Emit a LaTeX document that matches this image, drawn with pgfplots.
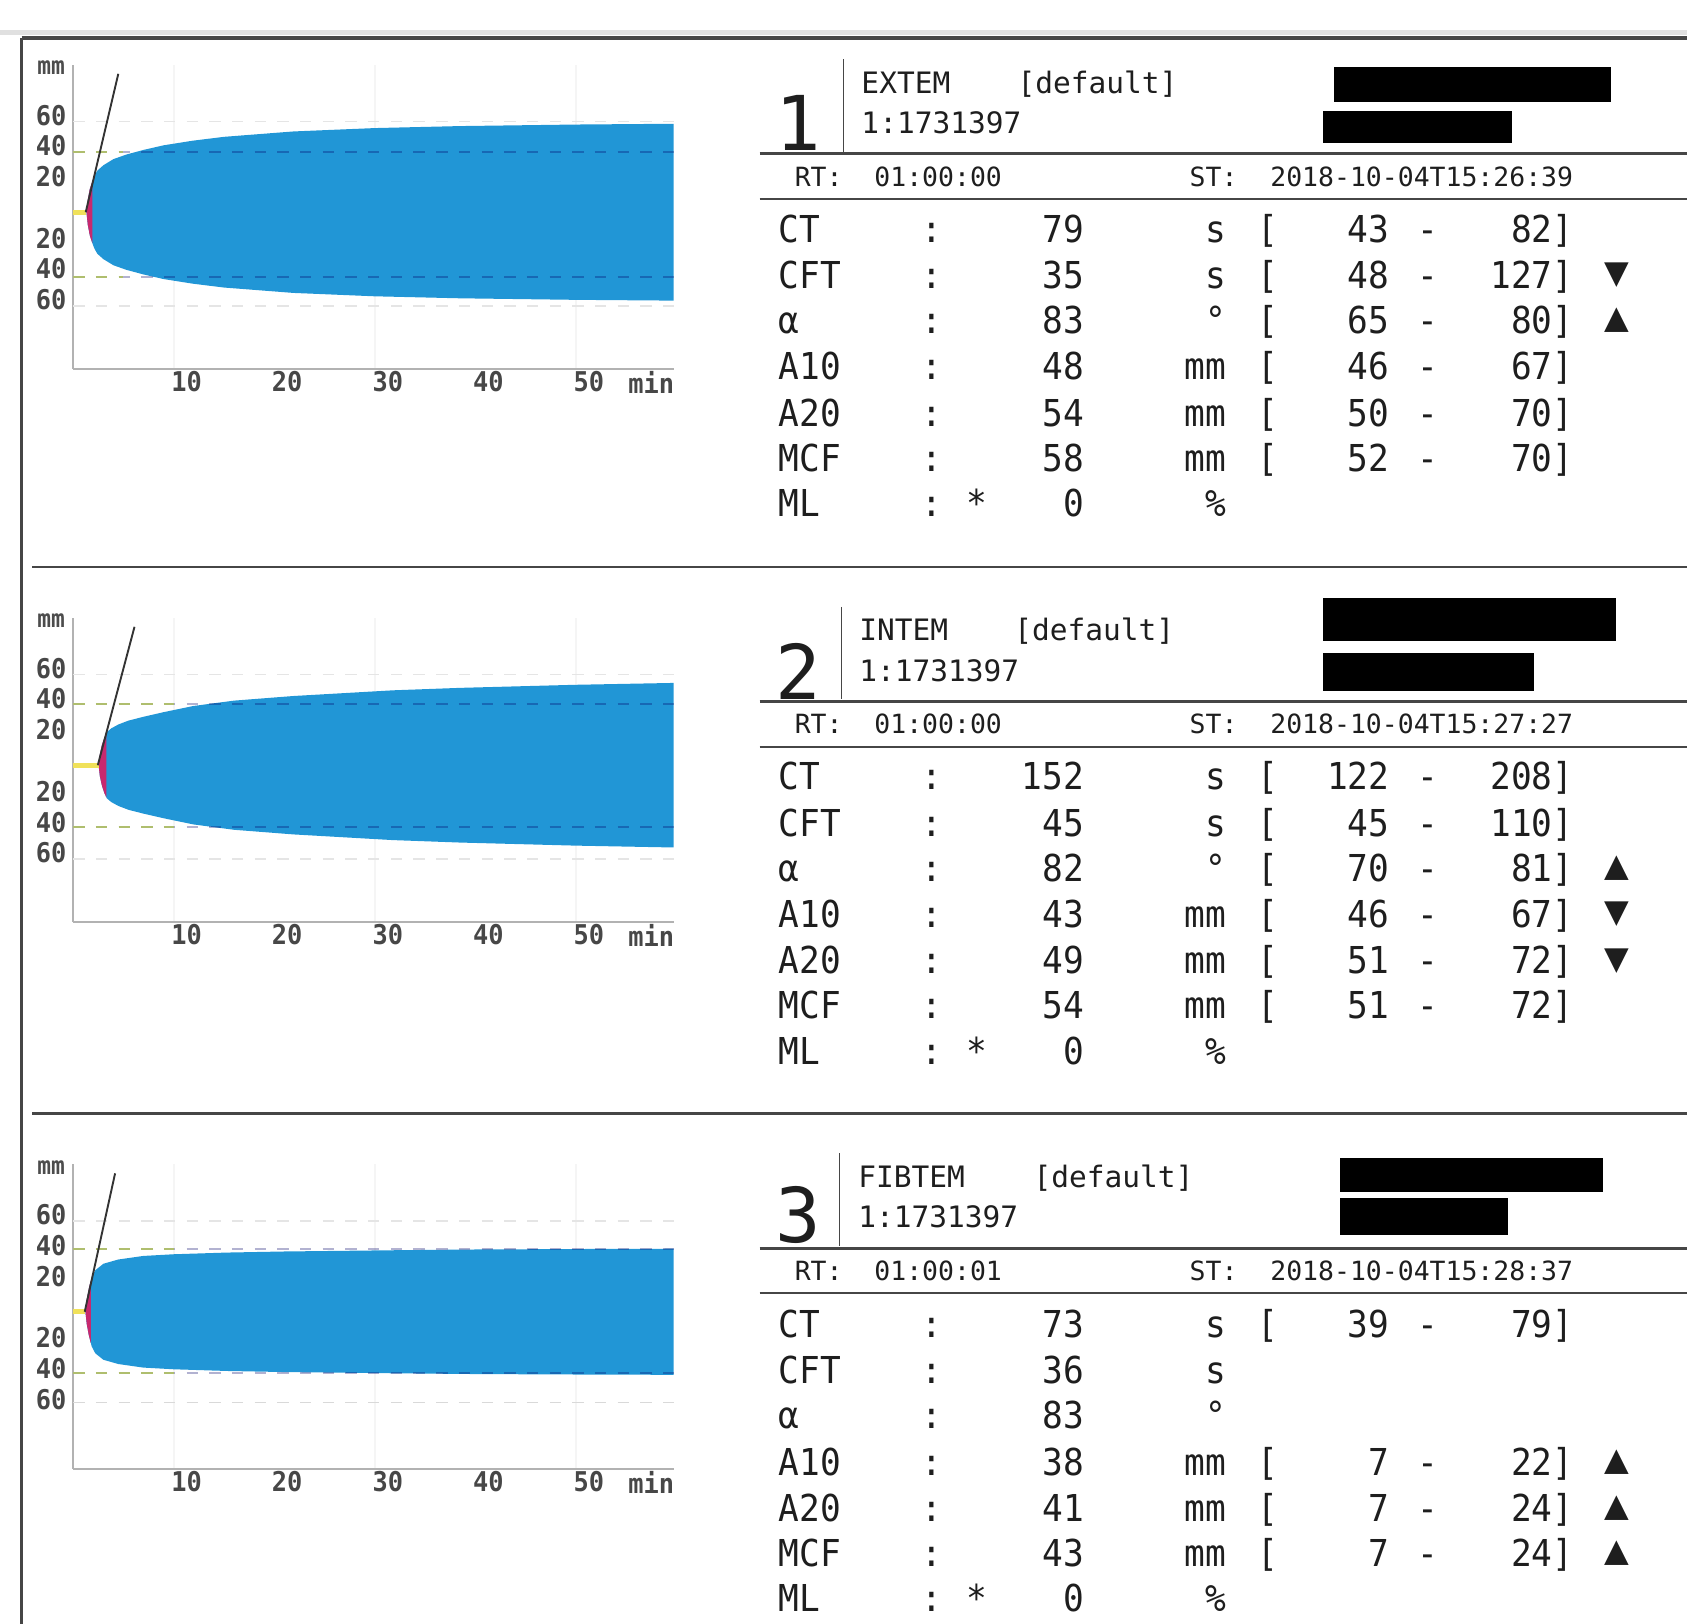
\documentclass[border=0pt]{standalone}
\usepackage{pgfplots}
\pgfplotsset{compat=1.18}
\usepackage{pgfplotstable}
\usepgfplotslibrary{fillbetween}
\usepackage{fontspec}
\setmainfont{DejaVu Sans}
\newfontfamily\monof{DejaVu Sans Mono}
\newfontfamily\rowf[FakeStretch=0.93]{DejaVu Sans Mono}
\newfontfamily\symf{DejaVu Sans}

\definecolor{rotblue}{RGB}{33,150,214}
\definecolor{txt}{RGB}{30,30,30}
\definecolor{frm}{RGB}{70,70,70}
\definecolor{refg}{RGB}{175,190,110}
\definecolor{ylw}{RGB}{240,225,90}
\definecolor{rd}{RGB}{200,40,110}

% EXTEM trace: time (min), half amplitude
\pgfplotstableread{
t A
1.32 0
1.45 8
1.65 15
1.9 20
2.1 23.5
2.4 27
3.0 30.5
4.0 34.5
5.3 37.5
7 40.5
9 43.5
11.9 46.5
15 49
21.9 52.5
30 54.7
38.5 56
50 57
59.7 57.5
}\traceA
% INTEM trace
\pgfplotstableread{
t A
2.53 0
2.65 7
2.85 13
3.1 18
3.34 21.5
3.8 24
4.5 26.5
5.5 29
7 31.5
9 34.5
11.95 38.5
16 42
21.9 45
31.8 48.7
38.5 50.3
50 52.3
59.7 53.5
}\traceB
% FIBTEM trace
\pgfplotstableread{
t A
1.22 0
1.35 8
1.55 15
1.84 22.5
2.2 27
3.0 31.2
4.5 34
6.97 36.3
10 37.4
15.3 38.5
21 39.2
31.8 40
40 40.5
50 40.8
59.7 41
}\traceC

\pgfplotsset{rotem/.style={
  scale only axis, width=55.8mm, height=28.3mm,
  xmin=0, xmax=59.7, ymin=-105, ymax=93,
  axis x line=bottom, axis y line=left,
  axis line style={draw=black!30, line width=0.5pt, -},
  xtick={10,20,30,40,50,56.2}, xticklabels={10,20,30,40,50,min},
  ytick={-60,-40,-20,20,40,60}, yticklabels={60,40,20,20,40,60},
  major tick length=0pt,
  ticklabel style={font=\rowf\bfseries\fontsize{7.2}{7.2}\selectfont, text=black!72},
  xticklabel style={xshift=1.2mm, yshift=1.0mm},
  yticklabel style={xshift=0.6mm},
  extra x ticks={10,30,50}, extra x tick labels={},
  extra x tick style={grid=major, major grid style={black!4, line width=0.6pt}},
  clip=false, anchor=south west,
}}

\newcommand\rfont{\rowf\fontsize{9.8}{9.8}\selectfont}
% #1 baseline, #2 label, #3 star, #4 value, #5 unit, #6 "[" or empty, #7 lo, #8 hi], #9 arrow
\newcommand\prow[9]{%
  \node[anchor=base west] at (723,-#1) {#2};
  \node[anchor=base] at (866,-#1) {:};
  \node[anchor=base] at (908,-#1) {#3};
  \node[anchor=base east] at (1008,-#1) {#4};
  \node[anchor=base east] at (1140,-#1) {#5};
  \if\relax\detokenize{#6}\relax\else
    \node[anchor=base west] at (1168,-#1) {#6};
    \node[anchor=base east] at (1292,-#1) {#7};
    \node[anchor=base] at (1327,-#1) {-};
    \node[anchor=base east] at (1463,-#1) {#8};
  \fi
  \node[anchor=center, font=\symf\fontsize{8.5}{8.5}\selectfont] at (1503,{-#1+12}) {#9};
}
\newcommand\phead[9]{% #1 dy, #2 digit, #3 name, #4 default x, #5 RT, #6 ST, #7 digit baseline, #8 vline x, #9 name x
  \node[anchor=base, font=\monof\fontsize{20}{20}\selectfont] at (742,{-#7}) {#2};
  \node[anchor=base west, font=\monof\fontsize{7.8}{7.8}\selectfont] at (#9,{-86.5-#1}) {#3};
  \node[anchor=base west, font=\monof\fontsize{7.8}{7.8}\selectfont] at (#4,{-86.5-#1}) {[default]};
  \node[anchor=base west, font=\monof\fontsize{7.8}{7.8}\selectfont] at (#9,{-124-#1}) {1:1731397};
  \node[anchor=base west, font=\monof\fontsize{7}{7}\selectfont] at (738,{-173-#1}) {RT:};
  \node[anchor=base west, font=\monof\fontsize{7}{7}\selectfont] at (812,{-173-#1}) {#5};
  \node[anchor=base west, font=\monof\fontsize{7}{7}\selectfont] at (1105,{-173-#1}) {ST:};
  \node[anchor=base west, font=\monof\fontsize{7}{7}\selectfont] at (1180,{-173-#1}) {#6};
  \draw[frm, line width=0.12mm] (#8,{-55-#1}) -- (#8,{-141-#1});
  \draw[frm, line width=0.28mm] (706,{-143-#1}) -- (1568,{-143-#1});
  \draw[frm, line width=0.22mm] (706,{-185-#1}) -- (1568,{-185-#1});
}

\begin{document}
\begin{tikzpicture}
\begin{scope}[x=0.1mm,y=0.1mm]
% frame
\draw[black!12, line width=0.5mm] (0,-30) -- (1568,-30);
\draw[frm, line width=0.35mm] (20,-35) -- (1568,-35);
\draw[frm, line width=0.35mm] (20,-35) -- (20,-1509);
\draw[frm, line width=0.25mm] (30,-527) -- (1568,-527);
\draw[frm, line width=0.25mm] (30,-1035) -- (1568,-1035);
\end{scope}

% ---------- chart 1 ----------
\begin{axis}[rotem, at={(6.8mm,-34.3mm)}]
\addplot[draw=black!10, dashed] coordinates {(0,56) (59.7,56)};
\addplot[draw=black!10, dashed] coordinates {(0,-64) (59.7,-64)};
\addplot[name path=ua, draw=none] table[x=t, y expr=\thisrow{A}-3] {\traceA};
\addplot[name path=la, draw=none] table[x=t, y expr=-\thisrow{A}-3] {\traceA};
\addplot[fill=rotblue, draw=none] fill between[of=ua and la];
\addplot[fill=rd, draw=none] fill between[of=ua and la, soft clip={domain=1.32:1.9}];
\addplot[draw=black!60!blue, opacity=0.3, dashed, line width=0.6pt] coordinates {(0,36) (59.7,36)};
\addplot[draw=black!60!blue, opacity=0.3, dashed, line width=0.6pt] coordinates {(0,-45) (59.7,-45)};
\addplot[draw=refg, dashed, line width=0.6pt] coordinates {(0,36) (5,36)};
\addplot[draw=refg, dashed, line width=0.6pt] coordinates {(0,-45) (5,-45)};
\addplot[draw=ylw, line width=1.4pt] coordinates {(0,-3) (1.32,-3)};
\addplot[draw=black!80, line width=0.5pt] coordinates {(1.25,-3) (4.49,87)};
\node[font=\rowf\bfseries\fontsize{6.5}{6.5}\selectfont, text=black!70] at (axis cs:-2.2,91) {mm};
\end{axis}

% ---------- chart 2 ----------
\begin{axis}[rotem, at={(6.8mm,-85.7mm)}]
\addplot[draw=black!10, dashed] coordinates {(0,56) (59.7,56)};
\addplot[draw=black!10, dashed] coordinates {(0,-64) (59.7,-64)};
\addplot[name path=ub, draw=none] table[x=t, y expr=\thisrow{A}-3] {\traceB};
\addplot[name path=lb, draw=none] table[x=t, y expr=-\thisrow{A}-3] {\traceB};
\addplot[fill=rotblue, draw=none] fill between[of=ub and lb];
\addplot[fill=rd, draw=none] fill between[of=ub and lb, soft clip={domain=2.53:3.3}];
\addplot[draw=black!60!blue, opacity=0.3, dashed, line width=0.6pt] coordinates {(0,37) (59.7,37)};
\addplot[draw=black!60!blue, opacity=0.3, dashed, line width=0.6pt] coordinates {(0,-43) (59.7,-43)};
\addplot[draw=refg, dashed, line width=0.6pt] coordinates {(0,37) (10,37)};
\addplot[draw=refg, dashed, line width=0.6pt] coordinates {(0,-43) (10,-43)};
\addplot[draw=ylw, line width=1.4pt] coordinates {(0,-3) (2.53,-3)};
\addplot[draw=black!80, line width=0.5pt] coordinates {(2.45,-3) (6.1,87)};
\node[font=\rowf\bfseries\fontsize{6.5}{6.5}\selectfont, text=black!70] at (axis cs:-2.2,91) {mm};
\end{axis}

% ---------- chart 3 ----------
\begin{axis}[rotem, at={(6.8mm,-136.5mm)}]
\addplot[draw=black!10, dashed] coordinates {(0,56) (59.7,56)};
\addplot[draw=black!15, dashed] coordinates {(0,-62) (59.7,-62)};
\addplot[name path=uc, draw=none] table[x=t, y expr=\thisrow{A}-3] {\traceC};
\addplot[name path=lc, draw=none] table[x=t, y expr=-\thisrow{A}-3] {\traceC};
\addplot[fill=rotblue, draw=none] fill between[of=uc and lc];
\addplot[fill=rd, draw=none] fill between[of=uc and lc, soft clip={domain=1.22:1.75}];
\addplot[draw=black!60!blue, opacity=0.3, dashed, line width=0.6pt] coordinates {(0,38) (59.7,38)};
\addplot[draw=black!60!blue, opacity=0.3, dashed, line width=0.6pt] coordinates {(0,-43) (59.7,-43)};
\addplot[draw=refg, dashed, line width=0.6pt] coordinates {(0,38) (10,38)};
\addplot[draw=refg, dashed, line width=0.6pt] coordinates {(0,-43) (10,-43)};
\addplot[draw=ylw, line width=1.4pt] coordinates {(0,-3) (1.22,-3)};
\addplot[draw=black!80, line width=0.5pt] coordinates {(1.15,-3) (4.17,87)};
\node[font=\rowf\bfseries\fontsize{6.5}{6.5}\selectfont, text=black!70] at (axis cs:-2.2,91) {mm};
\end{axis}

% ---------- text panels ----------
\begin{scope}[x=0.1mm,y=0.1mm,every node/.style={inner sep=0pt, text=txt, font=\rfont}]
\phead{0}{1}{EXTEM}{945}{01:00:00}{2018-10-04T15:26:39}{140}{784}{800}
\fill[black] (1240,-62) rectangle (1497,-95);
\fill[black] (1230,-103) rectangle (1405,-133);
\prow{225}{CT}{}{79}{s}{[}{43}{82]}{}
\prow{268}{CFT}{}{35}{s}{[}{48}{127]}{▼}
\prow{310}{α}{}{83}{°}{[}{65}{80]}{▲}
\prow{353}{A10}{}{48}{mm}{[}{46}{67]}{}
\prow{396}{A20}{}{54}{mm}{[}{50}{70]}{}
\prow{438}{MCF}{}{58}{mm}{[}{52}{70]}{}
\prow{480}{ML}{*}{0}{\%}{}{}{}{}

\phead{509}{2}{INTEM}{942}{01:00:00}{2018-10-04T15:27:27}{650}{782}{798}
\fill[black] (1230,-556) rectangle (1502,-596);
\fill[black] (1230,-607) rectangle (1426,-642);
\prow{734}{CT}{}{152}{s}{[}{122}{208]}{}
\prow{777}{CFT}{}{45}{s}{[}{45}{110]}{}
\prow{819}{α}{}{82}{°}{[}{70}{81]}{▲}
\prow{862}{A10}{}{43}{mm}{[}{46}{67]}{▼}
\prow{905}{A20}{}{49}{mm}{[}{51}{72]}{▼}
\prow{947}{MCF}{}{54}{mm}{[}{51}{72]}{}
\prow{989}{ML}{*}{0}{\%}{}{}{}{}

\phead{1017}{3}{FIBTEM}{960}{01:00:01}{2018-10-04T15:28:37}{1155}{780}{797}
\fill[black] (1245,-1076) rectangle (1490,-1108);
\fill[black] (1245,-1113) rectangle (1402,-1148);
\prow{1243}{CT}{}{73}{s}{[}{39}{79]}{}
\prow{1286}{CFT}{}{36}{s}{}{}{}{}
\prow{1328}{α}{}{83}{°}{}{}{}{}
\prow{1371}{A10}{}{38}{mm}{[}{7}{22]}{▲}
\prow{1414}{A20}{}{41}{mm}{[}{7}{24]}{▲}
\prow{1456}{MCF}{}{43}{mm}{[}{7}{24]}{▲}
\prow{1498}{ML}{*}{0}{\%}{}{}{}{}
\end{scope}
\pgfresetboundingbox
\path[use as bounding box] (0,0) rectangle (156.8mm,-150.9mm);
\end{tikzpicture}
\end{document}
